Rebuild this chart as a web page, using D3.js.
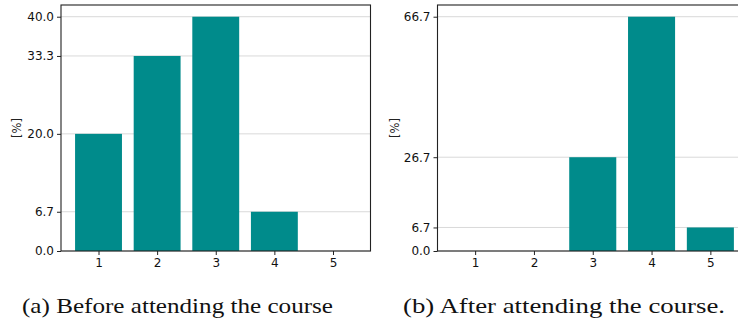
<!DOCTYPE html>
<html>
<head>
<meta charset="utf-8">
<script src="https://cdn.jsdelivr.net/npm/d3@7"></script>
<style>
  body { margin: 0; background: #fff; }
  svg { display: block; }
  .tick text { font-family: "DejaVu Sans", sans-serif; font-size: 12px; fill: #111; }
  .caption { font-family: "Liberation Serif", "DejaVu Serif", serif; font-size: 21px; fill: #111; }
</style>
</head>
<body>
<div id="chart"></div>
<script>
// survey answers, share of respondents per score
var categories = [1, 2, 3, 4, 5];
var beforeValues = [20.0, 33.3, 40.0, 6.7, 0.0];
var afterValues = [0.0, 0.0, 26.7, 66.7, 6.7];
var beforeTicks = [0.0, 6.7, 20.0, 33.3, 40.0];
var afterTicks = [0.0, 6.7, 26.7, 66.7];
var captions = ["(a) Before attending the course", "(b) After attending the course."];

var W = 738, H = 322;
var teal = '#008B8B';

var svg = d3.select("#chart").append("svg")
  .attr("width", W)
  .attr("height", H);

var panels = [
  { left: 61, right: 370.5, values: beforeValues, ticks: beforeTicks, ylab: 17, capX: 22, capW: 311 },
  { left: 437.5, right: 748, values: afterValues, ticks: afterTicks, ylab: 395, capX: 403, capW: 322 }
];
var plotTop = 5, plotBottom = 251;

panels.forEach(function(p, k) {
  // matplotlib-like limits: 5% margin around bars of width 0.8
  var x = d3.scaleLinear().domain([0.36, 5.64]).range([p.left, p.right]);
  var y = d3.scaleLinear().domain([0, d3.max(p.values) * 1.05]).range([plotBottom, plotTop]);
  var g = svg.append("g");

  // grid
  g.selectAll(".grid")
    .data(p.ticks)
    .enter().append("line")
    .attr("x1", p.left).attr("x2", p.right)
    .attr("y1", function(d) { return y(d); })
    .attr("y2", function(d) { return y(d); })
    .style("stroke", "#d9d9d9")
    .style("stroke-width", 1);

  // bars
  g.selectAll(".bar")
    .data(categories)
    .enter().append("rect")
    .style("fill", teal)
    .attr("x", function(d) { return x(d - 0.4); })
    .attr("width", function(d) { return x(d + 0.4) - x(d - 0.4); })
    .attr("y", function(d, i) { return y(p.values[i]); })
    .attr("height", function(d, i) { return plotBottom - y(p.values[i]); });

  // frame
  g.append("rect")
    .attr("x", p.left).attr("y", plotTop)
    .attr("width", p.right - p.left).attr("height", plotBottom - plotTop)
    .style("fill", "none")
    .style("stroke", "#222")
    .style("stroke-width", 1.1);

  var yAxis = g.append("g")
    .attr("transform", "translate(" + p.left + ",0)")
    .call(d3.axisLeft(y).tickValues(p.ticks).tickFormat(d3.format(".1f")).tickSize(4).tickPadding(3));
  yAxis.select(".domain").remove();
  yAxis.selectAll("line").style("stroke", "#222");

  var xAxis = g.append("g")
    .attr("transform", "translate(0," + plotBottom + ")")
    .call(d3.axisBottom(x).tickValues(categories).tickFormat(d3.format("d")).tickSize(4).tickPadding(3));
  xAxis.select(".domain").remove();
  xAxis.selectAll("line").style("stroke", "#222");

  g.append("text")
    .attr("transform", "translate(" + p.ylab + "," + ((plotTop + plotBottom) / 2) + ") rotate(-90)")
    .attr("text-anchor", "middle")
    .attr("dy", "0.35em")
    .style("font-family", "DejaVu Sans, sans-serif")
    .style("font-size", "11.5px")
    .style("fill", "#222")
    .text("[%]");

  svg.append("text")
    .attr("class", "caption")
    .attr("x", p.capX)
    .attr("y", 313)
    .attr("textLength", p.capW)
    .attr("lengthAdjust", "spacingAndGlyphs")
    .text(captions[k]);
});
</script>
</body>
</html>
